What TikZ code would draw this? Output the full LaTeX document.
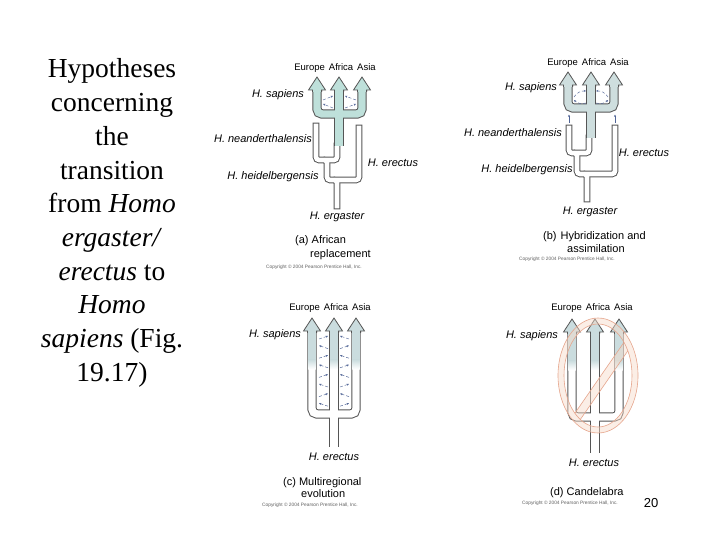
\documentclass[tikz,border=0pt]{standalone}
\usepackage{fontspec}
\setmainfont{Liberation Serif}
\setsansfont{Liberation Sans}
\usetikzlibrary{arrows.meta}
\definecolor{tubegray}{RGB}{85,85,85}
\definecolor{shadeA}{RGB}{190,224,218}
\definecolor{shadeB}{RGB}{206,222,222}
\definecolor{shadeC}{RGB}{202,220,222}
\definecolor{migblue}{RGB}{80,100,150}
\definecolor{ringc}{RGB}{230,165,140}
\definecolor{peach}{RGB}{248,218,200}
\definecolor{copygray}{RGB}{95,95,95}
\newcommand{\arrhd}[3]{%
  \filldraw[fill=#3, draw=tubegray, line width=0.8pt, line join=miter]
    (#1-4.6,#2+2) -- (#1-4.6,#2) -- (#1-8.5,#2) -- (#1,#2-13) -- (#1+8.5,#2) -- (#1+4.6,#2) -- (#1+4.6,#2+2);}
\newcommand{\treeApaths}[1]{%
  \draw[#1] (337,206) -- (337,180) -| (327,160) -| (316,126);
  \draw[#1] (337,180) -| (359,128);
  \draw[#1] (327,160) -| (337,146);}
\newcommand{\treeBpaths}[1]{%
  \draw[#1] (587,199) -- (587,174) -| (577,153) -| (569,128);
  \draw[#1] (587,174) -| (615,128);
  \draw[#1] (577,153) -| (589,138);}
\begin{document}
\begin{tikzpicture}[x=1pt,y=-1pt,
  tubeo/.style={draw=tubegray, line width=6.6pt, line cap=rect, rounded corners=3pt},
  tubei/.style={draw=white, line width=4.6pt, line cap=rect, rounded corners=3pt},
  sho/.style={draw=tubegray, line width=9.4pt, line cap=butt, rounded corners=5pt},
  shi/.style={line width=7.4pt, line cap=butt, rounded corners=5pt},
  lab/.style={font=\sffamily\itshape\fontsize{11}{13}\selectfont, inner sep=0pt},
  reg/.style={font=\sffamily\fontsize{9.5}{11}\selectfont, inner sep=0pt},
  capt/.style={font=\sffamily\fontsize{11}{13}\selectfont, inner sep=0pt, anchor=west},
  copyr/.style={font=\sffamily\fontsize{4.8}{6}\selectfont, text=copygray, inner sep=0pt},
  mig/.style={draw=migblue, line width=0.45pt, densely dashed, -{Stealth[length=2.4pt,width=2pt]}},
  migs/.style={draw=migblue, line width=0.45pt, -{Stealth[length=2.4pt,width=2pt]}},
  big/.style={font=\fontsize{27.5}{33}\selectfont, inner sep=0pt, anchor=base}
]
\useasboundingbox[fill=white] (0,0) rectangle (720,540);

% ---------------- left text ----------------
\node[big] (t1) at (112,78) {Hypotheses};
\node[big] (t2) at (112,111.7) {concerning};
\node[big] (t3) at (112,145.4) {the};
\node[big] (t4) at (112,179.1) {transition};
\node[big] (t5) at (112,212.8) {from \textit{Homo}};
\node[big] (t6) at (112,246.5) {\textit{ergaster/}};
\node[big] (t7) at (112,280.2) {\textit{erectus} to};
\node[big] (t8) at (112,313.9) {\textit{Homo}};
\node[big] (t9) at (112,347.6) {\textit{sapiens} (Fig.};
\node[big] (t10) at (112,381.3) {19.17)};

% ---------------- panel (a) ----------------
\treeApaths{tubeo}
\treeApaths{tubei}
\draw[sho] (317,90) -- (317,114) -- (362,114) -- (362,90);
\draw[sho] (339,90) -- (339,146);
\draw[shi, draw=shadeA] (317,90) -- (317,114) -- (362,114) -- (362,90);
\draw[shi, draw=shadeA] (339,90) -- (339,146);
\arrhd{317}{90}{shadeA}
\arrhd{339}{90}{shadeA}
\arrhd{362}{90}{shadeA}
\draw[mig] (323,100) -- (333,96);
\draw[mig] (333,108) -- (323,104);
\draw[mig] (356,100) -- (345,96);
\draw[mig] (345,108) -- (356,104);
\node[reg] (ra) at (335,68) {Europe\hspace{4pt}Africa\hspace{4pt}Asia};
\node[lab] (sa) at (278,95) {H. sapiens};
\node[lab] (na) at (263,139) {H. neanderthalensis};
\node[lab] (ea) at (393,163) {H. erectus};
\node[lab] (ha) at (273,177) {H. heidelbergensis};
\node[lab] (ga) at (337,217) {H. ergaster};
\node[capt] (ca1) at (295,241) {(a) African};
\node[capt] (ca2) at (310,255) {replacement};
\node[copyr] (cpa) at (314,267) {Copyright \textcopyright\ 2004 Pearson Prentice Hall, Inc.};

% ---------------- panel (b) ----------------
\treeBpaths{tubeo}
\treeBpaths{tubei}
\draw[sho] (568,85) -- (568,108) -- (614,108) -- (614,85);
\draw[sho] (591,85) -- (591,138);
\draw[shi, draw=shadeB] (568,85) -- (568,108) -- (614,108) -- (614,85);
\draw[shi, draw=shadeB] (591,85) -- (591,138);
\arrhd{568}{85}{shadeB}
\arrhd{591}{85}{shadeB}
\arrhd{614}{85}{shadeB}
\draw[mig] (574,97) to[bend left=30] (586,91);
\draw[mig] (586,103) to[bend left=30] (574,100);
\draw[mig] (608,97) to[bend right=30] (596,91);
\draw[mig] (596,103) to[bend right=30] (608,100);
\draw[migs] (569,123) -- (569,114.5);
\draw[migs] (615,123) -- (615,114.5);
\node[reg] (rb) at (588,63) {Europe\hspace{4pt}Africa\hspace{4pt}Asia};
\node[lab] (sb) at (531,88) {H. sapiens};
\node[lab] (nb) at (513,133) {H. neanderthalensis};
\node[lab] (eb) at (644,153) {H. erectus};
\node[lab] (hb) at (527,170) {H. heidelbergensis};
\node[lab] (gb) at (590,212) {H. ergaster};
\node[capt] (cb1) at (543,237) {(b)\hspace{4pt}Hybridization and};
\node[capt] (cb2) at (567,249) {assimilation};
\node[copyr] (cpb) at (567,259) {Copyright \textcopyright\ 2004 Pearson Prentice Hall, Inc.};

% ---------------- panel (c) ----------------
\draw[sho] (312,331) -- (312,414) -- (356,414) -- (356,331);
\draw[sho] (334,331) -- (334,447);
\draw[shi, draw=white] (312,331) -- (312,414) -- (356,414) -- (356,331);
\draw[shi, draw=white] (334,331) -- (334,447);
\foreach \cx in {312,334,356}{
  \fill[shadeC] (\cx-3.7,331) rectangle (\cx+3.7,360);
  \shade[top color=shadeC, bottom color=white] (\cx-3.7,359.5) rectangle (\cx+3.7,369);
}
\arrhd{312}{331}{shadeC}
\arrhd{334}{331}{shadeC}
\arrhd{356}{331}{shadeC}
\foreach \k in {0,2,4,6}{
  \pgfmathsetmacro{\yy}{337+9.6*\k}
  \pgfmathsetmacro{\yz}{337+9.6*(\k+1)}
  \draw[mig] (319,\yy+2) -- (328,\yy-1);
  \draw[mig] (328,\yz+2) -- (319,\yz-1);
  \draw[mig] (349,\yy+2) -- (340,\yy-1);
  \draw[mig] (340,\yz+2) -- (349,\yz-1);
}
\node[reg] (rc) at (330,308) {Europe\hspace{4pt}Africa\hspace{4pt}Asia};
\node[lab] (sc) at (275,335) {H. sapiens};
\node[lab] (ec) at (334,457) {H. erectus};
\node[capt] (cc1) at (283,483) {(c) Multiregional};
\node[capt] (cc2) at (301,494) {evolution};
\node[copyr] (cpc) at (310,505) {Copyright \textcopyright\ 2004 Pearson Prentice Hall, Inc.};

% ---------------- panel (d) ----------------
\draw[sho] (572,332) -- (572,417) -- (619,417) -- (619,332);
\draw[sho] (595,332) -- (595,453);
\draw[shi, draw=white] (572,332) -- (572,417) -- (619,417) -- (619,332);
\draw[shi, draw=white] (595,332) -- (595,453);
\foreach \cx in {572,595,619}{
  \fill[shadeC] (\cx-3.7,332) rectangle (\cx+3.7,361);
  \shade[top color=shadeC, bottom color=white] (\cx-3.7,360.5) rectangle (\cx+3.7,370);
}
\arrhd{572}{332}{shadeC}
\arrhd{595}{332}{shadeC}
\arrhd{619}{332}{shadeC}
% prohibition ring
\fill[peach, opacity=0.45, even odd rule]
  (598,375.5) ellipse [x radius=40pt, y radius=57.5pt]
  (598,375.5) ellipse [x radius=34pt, y radius=51.5pt];
\begin{scope}
  \clip (598,375.5) ellipse [x radius=34pt, y radius=51.5pt];
  \fill[peach, opacity=0.45] (551.7,446.7) -- (641.7,316.7) -- (648.3,321.3) -- (558.3,451.3) -- cycle;
  \draw[ringc, line width=0.6pt] (551.7,446.7) -- (641.7,316.7);
  \draw[ringc, line width=0.6pt] (558.3,451.3) -- (648.3,321.3);
\end{scope}
\draw[ringc, line width=0.6pt] (598,375.5) ellipse [x radius=40pt, y radius=57.5pt];
\draw[ringc, line width=0.6pt] (598,375.5) ellipse [x radius=34pt, y radius=51.5pt];
\node[reg] (rd) at (592,308) {Europe\hspace{4pt}Africa\hspace{4pt}Asia};
\node[lab] (sd) at (532,336) {H. sapiens};
\node[lab] (ed) at (594,463) {H. erectus};
\node[capt] (cd1) at (550,493) {(d) Candelabra};
\node[copyr] (cpd) at (570,503) {Copyright \textcopyright\ 2004 Pearson Prentice Hall, Inc.};
\node[font=\sffamily\fontsize{13}{15}\selectfont, inner sep=0pt] (pg) at (651,503) {20};
\end{tikzpicture}
\end{document}
